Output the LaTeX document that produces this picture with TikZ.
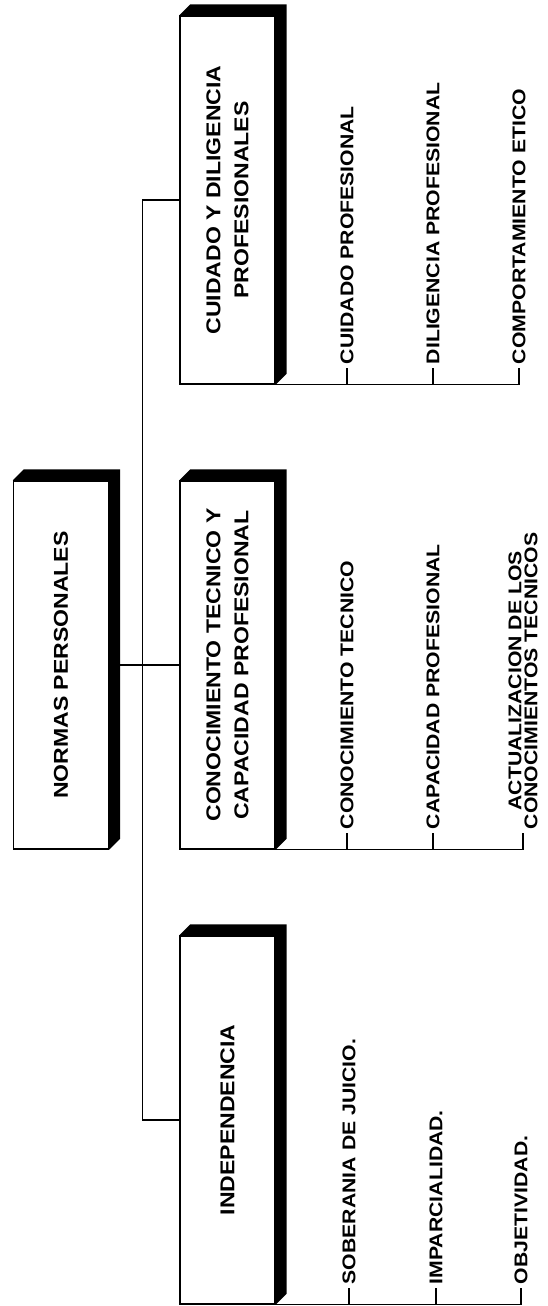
\documentclass[tikz,border=0pt]{standalone}
\usepackage{fontspec}
\setmainfont{Liberation Sans}[FakeStretch=1.15]
\usepackage{tikz}
\usetikzlibrary{calc}

\begin{document}
\begin{tikzpicture}[x=0.02cm, y=-0.02cm,
        catbox/.style={draw, fill=white, line width=0.8pt, inner sep=0pt,
                       minimum width=1.9cm, minimum height=7.36cm},
        boxtext/.style={rotate=90, align=center, font=\fontsize{11.4pt}{16pt}\selectfont\bfseries},
        item/.style={rotate=90, anchor=west, inner sep=2pt, align=center,
                     font=\fontsize{10.5pt}{9pt}\selectfont\bfseries},
        ln/.style={line width=0.8pt}
      ]
        \useasboundingbox (0,0) rectangle (548,1306);
        % main boxes
        \node[catbox, label={[boxtext]center:NORMAS PERSONALES}] (normas) at (61,665) {};
        \node[catbox, label={[boxtext]center:{CUIDADO Y DILIGENCIA\\PROFESIONALES}}] (cuidado) at (227.5,200) {};
        \node[catbox, label={[boxtext]center:{CONOCIMIENTO TECNICO Y\\CAPACIDAD PROFESIONAL}}] (conoc) at (227.5,665) {};
        \node[catbox, label={[boxtext]center:INDEPENDENCIA}] (indep) at (227.5,1120) {};
        % black edges
        \fill (normas.north west) -- ($(normas.north west)+(0.22cm,0.22cm)$) -- ($(normas.north east)+(0.22cm,0.22cm)$) -- ($(normas.south east)+(0.22cm,0.22cm)$) -- (normas.south east) -- (normas.north east) -- cycle;
        \fill (cuidado.north west) -- ($(cuidado.north west)+(0.22cm,0.22cm)$) -- ($(cuidado.north east)+(0.22cm,0.22cm)$) -- ($(cuidado.south east)+(0.22cm,0.22cm)$) -- (cuidado.south east) -- (cuidado.north east) -- cycle;
        \fill (conoc.north west) -- ($(conoc.north west)+(0.22cm,0.22cm)$) -- ($(conoc.north east)+(0.22cm,0.22cm)$) -- ($(conoc.south east)+(0.22cm,0.22cm)$) -- (conoc.south east) -- (conoc.north east) -- cycle;
        \fill (indep.north west) -- ($(indep.north west)+(0.22cm,0.22cm)$) -- ($(indep.north east)+(0.22cm,0.22cm)$) -- ($(indep.south east)+(0.22cm,0.22cm)$) -- (indep.south east) -- (indep.north east) -- cycle;
        % trunk
        \draw[ln] (cuidado.west) -- ++(-37,0) |- (indep.west);
        \draw[ln] (normas.east) -- (conoc.west);
        % CUIDADO items
        \node[item] (cu1) at (347,368) {CUIDADO PROFESIONAL};
        \node[item] (cu2) at (433,368) {DILIGENCIA PROFESIONAL};
        \node[item] (cu3) at (519,368) {COMPORTAMIENTO ETICO};
        \draw[ln] (cuidado.south west) -- (cu3.west |- cuidado.south) -- (cu3.west);
        \draw[ln] (cu1.west) -- (cu1.west |- cuidado.south);
        \draw[ln] (cu2.west) -- (cu2.west |- cuidado.south);
        % CONOCIMIENTO items
        \node[item] (co1) at (347,833) {CONOCIMIENTO TECNICO};
        \node[item] (co2) at (433,833) {CAPACIDAD PROFESIONAL};
        \node[item] (co3) at (523,833) {ACTUALIZACION DE LOS\\CONOCIMIENTOS TECNICOS};
        \draw[ln] (conoc.south west) -- (co3.west |- conoc.south) -- (co3.west);
        \draw[ln] (co1.west) -- (co1.west |- conoc.south);
        \draw[ln] (co2.west) -- (co2.west |- conoc.south);
        % INDEPENDENCIA items
        \node[item] (in1) at (349,1288) {SOBERANIA DE JUICIO.};
        \node[item] (in2) at (436,1288) {IMPARCIALIDAD.};
        \node[item] (in3) at (521,1288) {OBJETIVIDAD.};
        \draw[ln] (indep.south west) -- (in3.west |- indep.south) -- (in3.west);
        \draw[ln] (in1.west) -- (in1.west |- indep.south);
        \draw[ln] (in2.west) -- (in2.west |- indep.south);
      \end{tikzpicture}
\end{document}
